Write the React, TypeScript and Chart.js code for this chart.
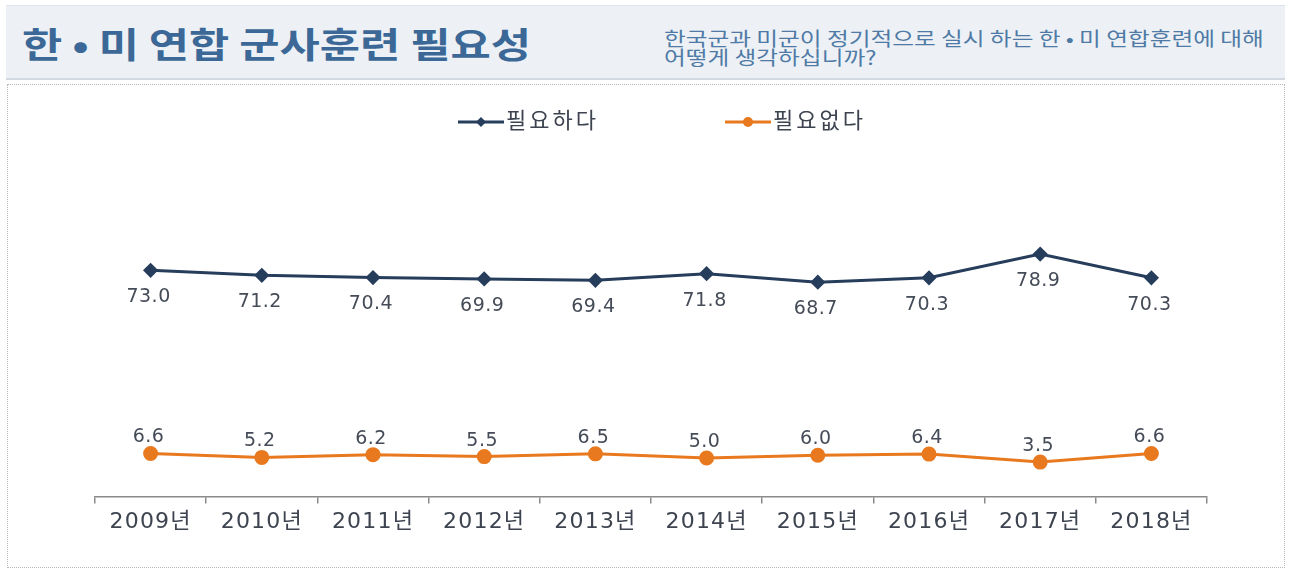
import React, { useEffect, useRef } from "react";
import { Chart, registerables } from "chart.js";

Chart.register(...registerables);

const TITLE = "한 • 미 연합 군사훈련 필요성";
const SUBTITLE_1 = "한국군과 미군이 정기적으로 실시 하는 한 • 미 연합훈련에 대해";
const SUBTITLE_2 = "어떻게 생각하십니까?";

const years = ["2009년", "2010년", "2011년", "2012년", "2013년", "2014년", "2015년", "2016년", "2017년", "2018년"];
const needed = [73.0, 71.2, 70.4, 69.9, 69.4, 71.8, 68.7, 70.3, 78.9, 70.3];
const notNeeded = [6.6, 5.2, 6.2, 5.5, 6.5, 5.0, 6.0, 6.4, 3.5, 6.6];
const seriesNames = ["필요하다", "필요없다"];

const NAVY = "#263d5c";
const ORANGE = "#e8791f";
const LABEL_COLOR = "#454c58";
const FONT = "'DejaVu Sans', 'Noto Sans CJK KR', sans-serif";

const spacingPlugin = {
  id: "letterSpacing",
  beforeLayout(chart: any) {
    (chart.ctx as any).letterSpacing = "1.2px";
  },
  beforeDraw(chart: any) {
    (chart.ctx as any).letterSpacing = "1.2px";
  },
};

const labelPlugin = {
  id: "valueLabels",
  afterDatasetsDraw(chart: any) {
    const ctx = chart.ctx;
    ctx.save();
    (ctx as any).letterSpacing = "0.5px";
    ctx.font = `19px ${FONT}`;
    ctx.fillStyle = LABEL_COLOR;
    ctx.textAlign = "center";
    ctx.textBaseline = "middle";
    chart.data.datasets.forEach((ds: any, di: number) => {
      const meta = chart.getDatasetMeta(di);
      meta.data.forEach((pt: any, i: number) => {
        const v = ds.data[i] as number;
        const dy = di === 0 ? 27 : -16;
        ctx.fillText(v.toFixed(1), pt.x - 2, pt.y + dy);
      });
    });
    ctx.restore();
  },
};

const legendPlugin = {
  id: "customLegend",
  afterDraw(chart: any) {
    const ctx = chart.ctx;
    ctx.save();
    const y = 38;
    const items = [
      { x: 458, color: NAVY, style: "diamond", text: seriesNames[0] },
      { x: 725, color: ORANGE, style: "circle", text: seriesNames[1] },
    ];
    items.forEach((it) => {
      ctx.strokeStyle = it.color;
      ctx.fillStyle = it.color;
      ctx.lineWidth = 3;
      ctx.beginPath();
      ctx.moveTo(it.x, y);
      ctx.lineTo(it.x + 46, y);
      ctx.stroke();
      const cx = it.x + 23;
      ctx.beginPath();
      if (it.style === "diamond") {
        ctx.moveTo(cx, y - 5);
        ctx.lineTo(cx + 5, y);
        ctx.lineTo(cx, y + 5);
        ctx.lineTo(cx - 5, y);
        ctx.closePath();
      } else {
        ctx.arc(cx, y, 5, 0, Math.PI * 2);
      }
      ctx.fill();
      (ctx as any).letterSpacing = "3px";
      ctx.font = `22px ${FONT}`;
      ctx.fillStyle = "#3d4450";
      ctx.textAlign = "left";
      ctx.textBaseline = "middle";
      ctx.fillText(it.text, it.x + 48, y);
    });
    ctx.restore();
  },
};

function LineChart() {
  const ref = useRef<HTMLCanvasElement | null>(null);
  useEffect(() => {
    if (!ref.current) return;
    const chart = new Chart(ref.current, {
      type: "line",
      data: {
        labels: years,
        datasets: [
          {
            label: seriesNames[0],
            data: needed,
            borderColor: NAVY,
            backgroundColor: NAVY,
            borderWidth: 3,
            pointStyle: "rectRot",
            pointRadius: 5.5,
            pointHoverRadius: 5.5,
            tension: 0,
          },
          {
            label: seriesNames[1],
            data: notNeeded,
            borderColor: ORANGE,
            backgroundColor: ORANGE,
            borderWidth: 3,
            pointStyle: "circle",
            pointRadius: 6,
            pointHoverRadius: 6,
            tension: 0,
          },
        ],
      },
      options: {
        animation: false,
        responsive: false,
        maintainAspectRatio: false,
        layout: { padding: { left: 95, right: 82, top: 76, bottom: 31 } },
        plugins: { legend: { display: false }, tooltip: { enabled: false } },
        scales: {
          x: {
            offset: true,
            grid: {
              offset: true,
              drawOnChartArea: false,
              drawTicks: true,
              tickLength: 7,
              color: "#8a8a8a",
              lineWidth: 1.5,
            },
            border: { color: "#8a8a8a", width: 1.5 },
            ticks: {
              color: "#3d4450",
              font: { family: FONT, size: 22 },
              padding: 5,
            },
          },
          y: {
            display: false,
            min: -9,
            max: 113,
          },
        },
      },
      plugins: [spacingPlugin, labelPlugin, legendPlugin],
    });
    return () => chart.destroy();
  }, []);
  return <canvas ref={ref} width={1289} height={487} style={{ position: "absolute", left: 0, top: 84, width: 1289, height: 487 }} />;
}

export default function App() {
  return (
    <div style={{ position: "absolute", left: 0, top: 0, width: 1289, height: 571, background: "#ffffff", overflow: "hidden" }}>
      <div
        style={{
          position: "absolute",
          left: 6,
          top: 5,
          width: 1279,
          height: 72,
          background: "#edf1f5",
          borderTop: "1px solid #dde3ea",
          borderBottom: "2px solid #d3d9e0",
        }}
      />
      <div
        style={{
          position: "absolute",
          left: 22,
          top: 20,
          fontFamily: "'Noto Sans CJK KR', sans-serif",
          fontWeight: 700,
          fontSize: 35,
          lineHeight: "46px",
          color: "#3b6896",
          whiteSpace: "nowrap",
          transform: "scaleX(1.25)",
          transformOrigin: "left center",
        }}
      >
        {TITLE}
      </div>
      <div
        style={{
          position: "absolute",
          left: 664,
          top: 28,
          fontFamily: "'Noto Sans CJK KR', sans-serif",
          fontSize: 19,
          lineHeight: "19px",
          color: "#4f7aa6",
          whiteSpace: "nowrap",
          transform: "scaleX(1.245)",
          transformOrigin: "left center",
        }}
      >
        <div>{SUBTITLE_1}</div>
        <div>{SUBTITLE_2}</div>
      </div>
      <div
        style={{
          position: "absolute",
          left: 7,
          top: 84,
          width: 1276,
          height: 482,
          border: "1px dotted #b8b8b8",
        }}
      />
      <LineChart />
    </div>
  );
}
